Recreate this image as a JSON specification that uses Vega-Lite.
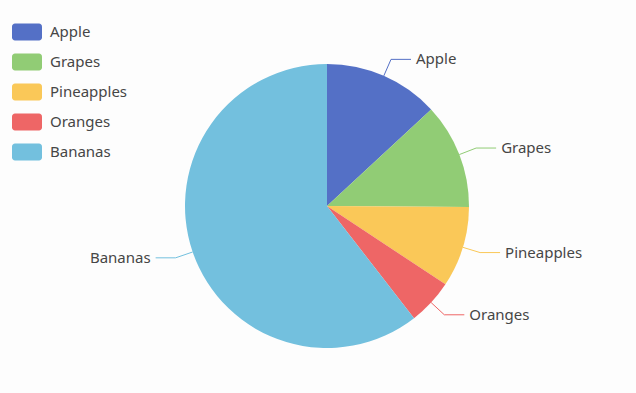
{
  "$schema": "https://vega.github.io/schema/vega-lite/v6.json",
  "width": 600,
  "height": 360,
  "autosize": {"type": "none"},
  "padding": {"left": 27, "right": 9, "top": 26, "bottom": 7},
  "background": "#fdfdfd",
  "config": {"view": {"stroke": null}, "font": "Noto Sans"},
  "data": {
    "values": [
      {"fruit": "Apple", "value": 13.1, "rank": 1},
      {"fruit": "Grapes", "value": 12.0, "rank": 2},
      {"fruit": "Pineapples", "value": 9.2, "rank": 3},
      {"fruit": "Oranges", "value": 5.2, "rank": 4},
      {"fruit": "Bananas", "value": 60.5, "rank": 5}
    ]
  },
  "transform": [
    {"window": [{"op": "sum", "field": "value", "as": "cum"}], "sort": [{"field": "rank"}], "frame": [null, 0]},
    {"joinaggregate": [{"op": "sum", "field": "value", "as": "total"}]},
    {"calculate": "(datum.cum - datum.value / 2) / datum.total * 2 * PI", "as": "mid"},
    {"calculate": "sin(datum.mid)", "as": "sx"},
    {"calculate": "cos(datum.mid)", "as": "cy"},
    {"calculate": "142 * datum.sx", "as": "x0"},
    {"calculate": "142 * datum.cy", "as": "y0"},
    {"calculate": "160 * datum.sx", "as": "x1"},
    {"calculate": "160 * datum.cy", "as": "y1"},
    {"calculate": "datum.x1 + (datum.sx >= 0 ? 20 : -20)", "as": "x2"},
    {"calculate": "datum.x2 + (datum.sx >= 0 ? 5 : -5)", "as": "tx"}
  ],
  "layer": [
    {
      "mark": {"type": "arc", "outerRadius": 142},
      "encoding": {
        "theta": {"field": "value", "type": "quantitative", "stack": true},
        "order": {"field": "rank", "type": "quantitative"},
        "color": {
          "field": "fruit",
          "type": "nominal",
          "scale": {
            "domain": ["Apple", "Grapes", "Pineapples", "Oranges", "Bananas"],
            "range": ["#5470c6", "#91cc75", "#fac858", "#ee6666", "#73c0de"]
          },
          "legend": {
            "orient": "none",
            "legendX": -15,
            "legendY": -9,
            "title": null,
            "padding": 0,
            "rowPadding": 6,
            "symbolType": "M-0.8,-0.567 H0.8 A0.2,0.2 0 0 1 1,-0.367 V0.367 A0.2,0.2 0 0 1 0.8,0.567 H-0.8 A0.2,0.2 0 0 1 -1,0.367 V-0.367 A0.2,0.2 0 0 1 -0.8,-0.567 Z",
            "symbolSize": 900,
            "symbolStrokeWidth": 0,
            "symbolOpacity": 1,
            "labelFont": "Noto Sans",
            "labelFontSize": 15,
            "labelColor": "#464646",
            "labelOffset": 8
          }
        }
      }
    },
    {
      "mark": {"type": "rule", "strokeWidth": 1},
      "encoding": {
        "x": {"field": "x0", "type": "quantitative", "scale": {"domain": [-300, 300], "nice": false, "zero": false}, "axis": null},
        "y": {"field": "y0", "type": "quantitative", "scale": {"domain": [-180, 180], "nice": false, "zero": false}, "axis": null},
        "x2": {"field": "x1"},
        "y2": {"field": "y1"},
        "color": {"field": "fruit", "type": "nominal", "legend": null}
      }
    },
    {
      "mark": {"type": "rule", "strokeWidth": 1},
      "encoding": {
        "x": {"field": "x1", "type": "quantitative"},
        "y": {"field": "y1", "type": "quantitative"},
        "x2": {"field": "x2"},
        "color": {"field": "fruit", "type": "nominal", "legend": null}
      }
    },
    {
      "transform": [{"filter": "datum.sx >= 0"}],
      "mark": {"type": "text", "align": "left", "baseline": "middle", "fontSize": 15, "color": "#464646", "font": "Noto Sans"},
      "encoding": {
        "x": {"field": "tx", "type": "quantitative"},
        "y": {"field": "y1", "type": "quantitative"},
        "text": {"field": "fruit"}
      }
    },
    {
      "transform": [{"filter": "datum.sx < 0"}],
      "mark": {"type": "text", "align": "right", "baseline": "middle", "fontSize": 15, "color": "#464646", "font": "Noto Sans"},
      "encoding": {
        "x": {"field": "tx", "type": "quantitative"},
        "y": {"field": "y1", "type": "quantitative"},
        "text": {"field": "fruit"}
      }
    }
  ]
}
